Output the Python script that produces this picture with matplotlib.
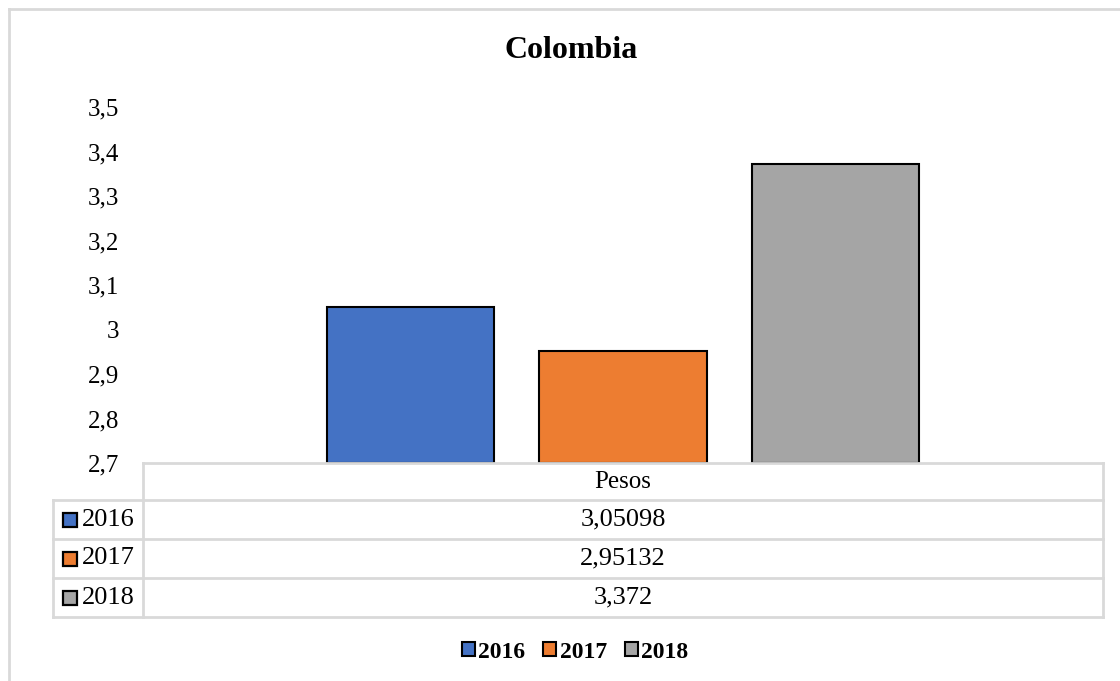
import matplotlib
matplotlib.use('Agg')
import matplotlib.pyplot as plt
from matplotlib.patches import Rectangle
from matplotlib.lines import Line2D
from matplotlib.ticker import FuncFormatter

title = 'Colombia'
category = 'Pesos'
years = ['2016', '2017', '2018']
values = [3.05098, 2.95132, 3.372]
value_labels = ['3,05098', '2,95132', '3,372']
colors = ['#4472c4', '#ed7d31', '#a5a5a5']
y_ticks = [2.7, 2.8, 2.9, 3.0, 3.1, 3.2, 3.3, 3.4, 3.5]

W, H = 1120, 681
plt.rcParams['font.family'] = ['Liberation Serif', 'DejaVu Serif']
fig = plt.figure(figsize=(W / 100, H / 100), dpi=100)


def fx(px):
    return px / W


def fy(py):
    return 1 - py / H


# plot area in pixels
left, right, top, bottom = 143, 1103, 107, 463
ax = fig.add_axes([fx(left), fy(bottom), fx(right) - fx(left), fy(top) - fy(bottom)])
bar_w = 0.174
offsets = [-(bar_w + 0.047), 0, bar_w + 0.047]
for off, v, c in zip(offsets, values, colors):
    ax.bar(off, v - y_ticks[0], bottom=y_ticks[0], width=bar_w, color=c,
           edgecolor='black', linewidth=1.5)
ax.set_xlim(-0.5, 0.5)
ax.set_ylim(y_ticks[0], y_ticks[-1])
ax.set_yticks(y_ticks)
ax.yaxis.set_major_formatter(FuncFormatter(lambda v, p: f'{v:g}'.replace('.', ',')))
ax.tick_params(axis='y', length=0, labelsize=18, pad=17)
ax.set_xticks([])
for s in ax.spines.values():
    s.set_visible(False)

# outer chart border
grid_c = '#d9d9d9'
fig.add_artist(Line2D([fx(9), fx(9)], [fy(9), fy(H + 5)], color=grid_c, lw=2))
fig.add_artist(Line2D([fx(9), fx(W + 5)], [fy(9), fy(9)], color=grid_c, lw=2))

fig.text(fx(571), fy(50), title, ha='center', va='center', fontsize=23, fontweight='bold')

# data table
tab_left, row_h = 53, 39
header_top, header_bot = 463, 500
line_kw = dict(color=grid_c, lw=2)
fig.add_artist(Line2D([fx(left), fx(right)], [fy(header_top)] * 2, **line_kw))
fig.add_artist(Line2D([fx(left), fx(left)], [fy(header_top), fy(header_bot + row_h * len(years))], **line_kw))
fig.add_artist(Line2D([fx(right), fx(right)], [fy(header_top), fy(header_bot + row_h * len(years))], **line_kw))
fig.add_artist(Line2D([fx(tab_left), fx(tab_left)], [fy(header_bot), fy(header_bot + row_h * len(years))], **line_kw))
fig.text(fx((left + right) / 2), fy((header_top + header_bot) / 2), category,
         ha='center', va='center', fontsize=18)
for i, (yr, lab, c) in enumerate(zip(years, value_labels, colors)):
    y0 = header_bot + i * row_h
    fig.add_artist(Line2D([fx(tab_left), fx(right)], [fy(y0)] * 2, **line_kw))
    yc = y0 + row_h / 2
    fig.add_artist(Rectangle((fx(63), fy(yc + 7)), fx(14), 14 / H, facecolor=c,
                             edgecolor='black', lw=1.6))
    fig.text(fx(82), fy(yc), yr, ha='left', va='center', fontsize=19)
    fig.text(fx((left + right) / 2), fy(yc), lab, ha='center', va='center', fontsize=19)
fig.add_artist(Line2D([fx(tab_left), fx(right)], [fy(header_bot + row_h * len(years))] * 2, **line_kw))

# legend
handles = [Rectangle((0, 0), 1, 1, facecolor=c, edgecolor='black', lw=1.5) for c in colors]
leg = fig.legend(handles, years, loc='center', bbox_to_anchor=(fx(575), fy(652)), ncol=3,
                 frameon=False, handlelength=0.55, handleheight=0.55, handletextpad=0.15,
                 columnspacing=0.75, prop={'size': 17, 'weight': 'bold'})

fig.savefig('out.png', dpi=100, facecolor='white')
